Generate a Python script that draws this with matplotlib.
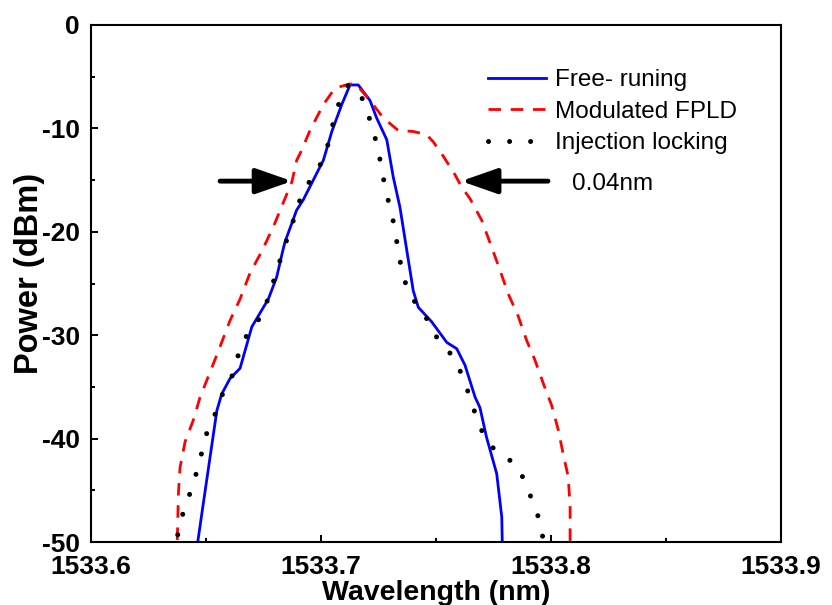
""" Spectra of the FPLD: free-running, modulated and injection locked """

import matplotlib
matplotlib.use('Agg')
import matplotlib.pyplot as plt
from matplotlib.ticker import MultipleLocator

# Free-running
free_wl = [1533.6464, 1533.6488, 1533.6547, 1533.6568, 1533.6604, 1533.6648,
           1533.6699, 1533.6771, 1533.6807, 1533.6833, 1533.6843, 1533.6894,
           1533.6923, 1533.6996, 1533.7010, 1533.7047, 1533.7090, 1533.7126,
           1533.7162, 1533.7213, 1533.7242, 1533.7286, 1533.7314, 1533.7343,
           1533.7373, 1533.7401, 1533.7423, 1533.7481, 1533.7547, 1533.7590,
           1533.7626, 1533.7670, 1533.7691, 1533.7720, 1533.7764, 1533.7786,
           1533.7788]
free_pw = [-50.0, -46.3, -37.3, -35.7, -34.2, -33.2,
           -29.2, -26.5, -24.4, -21.9, -21.0, -17.9,
           -16.9, -13.7, -13.1, -10.3, -7.7, -5.8,
           -5.8, -7.3, -9.0, -11.1, -14.7, -17.6,
           -21.8, -25.7, -27.3, -28.7, -30.7, -31.3,
           -32.9, -36.0, -37.0, -39.9, -43.4, -47.6,
           -50.0]

# Modulated FPLD
mod_wl = [1533.6375, 1533.6380, 1533.6387, 1533.6409, 1533.6445, 1533.6474,
          1533.6517, 1533.6561, 1533.6604, 1533.6648, 1533.6691, 1533.6742,
          1533.6793, 1533.6843, 1533.6873, 1533.6894, 1533.6916, 1533.6952,
          1533.7010, 1533.7061, 1533.7126, 1533.7155, 1533.7213, 1533.7271,
          1533.7336, 1533.7401, 1533.7459, 1533.7488, 1533.7532, 1533.7583,
          1533.7612, 1533.7648, 1533.7699, 1533.7742, 1533.7778, 1533.7814,
          1533.7858, 1533.7894, 1533.7930, 1533.7967, 1533.8003, 1533.8032,
          1533.8053, 1533.8075, 1533.8083, 1533.8083]
mod_pw = [-49.8, -45.3, -42.8, -40.3, -38.2, -36.0,
          -33.6, -31.1, -28.6, -26.5, -24.0, -21.9,
          -19.5, -16.8, -15.2, -13.1, -12.1, -10.2,
          -7.7, -6.1, -5.7, -5.8, -7.3, -9.0,
          -10.2, -10.3, -10.6, -11.3, -12.7, -14.5,
          -15.7, -16.8, -18.9, -21.5, -23.7, -26.0,
          -28.2, -30.5, -32.4, -34.7, -36.8, -39.2,
          -41.5, -43.7, -46.6, -49.9]

# Injection locking
inj_wl = [1533.6377, 1533.6399, 1533.6430, 1533.6457, 1533.6481, 1533.6503,
          1533.6542, 1533.6575, 1533.6619, 1533.6645, 1533.6691, 1533.6749,
          1533.6775, 1533.6804, 1533.6832, 1533.6862, 1533.6890, 1533.6920,
          1533.6974, 1533.7017, 1533.7039, 1533.7061, 1533.7090, 1533.7119,
          1533.7170, 1533.7203, 1533.7232, 1533.7253, 1533.7268, 1533.7287,
          1533.7310, 1533.7326, 1533.7340, 1533.7358, 1533.7391, 1533.7449,
          1533.7488, 1533.7543, 1533.7583, 1533.7622, 1533.7651, 1533.7680,
          1533.7717, 1533.7771, 1533.7843, 1533.7887, 1533.7920, 1533.7952,
          1533.7967]
inj_pw = [-49.3, -47.3, -45.3, -43.4, -41.4, -39.5,
          -37.5, -35.5, -33.7, -31.5, -29.4, -28.0,
          -26.0, -24.1, -22.0, -20.1, -18.2, -16.1,
          -14.4, -12.7, -10.8, -8.7, -6.8, -5.8,
          -6.6, -8.5, -10.6, -12.6, -14.5, -16.5,
          -18.5, -20.5, -22.4, -24.4, -26.3, -27.9,
          -29.8, -31.2, -32.4, -34.3, -36.3, -38.2,
          -40.2, -41.4, -42.4, -44.1, -46.1, -48.0,
          -49.9]

# width markers
arrow_level = -15.1
left_arrow = (1533.6561, 1533.6874)
right_arrow = (1533.7987, 1533.7609)
width_label = '0.04nm'

plt.rcParams['font.family'] = ['Liberation Sans', 'DejaVu Sans']
plt.rcParams['axes.unicode_minus'] = False

fig = plt.figure(figsize=(8.32, 6.05), dpi=100)
ax = fig.add_axes([0.1094, 0.1041, 0.8293, 0.8546])

ax.plot(free_wl, free_pw, color='#0000ff', lw=2.0, label='Free- runing')
ax.plot(mod_wl, mod_pw, color='#ff0000', lw=2.0, linestyle=(0, (4.5, 3.5)),
        label='Modulated FPLD')
ax.plot(inj_wl, inj_pw, color='black', lw=3.6, linestyle=(0, (0.01, 4.2)),
        dash_capstyle='round', label='Injection locking')

for tail, tip in (left_arrow, right_arrow):
    ax.annotate('', xy=(tip, arrow_level), xytext=(tail, arrow_level),
                arrowprops=dict(arrowstyle='-|>,head_length=1.0,head_width=0.35',
                                lw=3.5, color='black', mutation_scale=22,
                                shrinkA=0, shrinkB=0))
ax.text(1533.8091, arrow_level - 0.3, width_label, fontsize=17.5,
        ha='left', va='center')

ax.set_xlim(1533.6, 1533.9)
ax.set_ylim(-50, 0)
ax.xaxis.set_major_locator(MultipleLocator(0.1))
ax.xaxis.set_minor_locator(MultipleLocator(0.05))
ax.yaxis.set_major_locator(MultipleLocator(10))
ax.yaxis.set_minor_locator(MultipleLocator(5))
ax.set_xticks([1533.6, 1533.7, 1533.8, 1533.9])
ax.set_xticklabels(['1533.6', '1533.7', '1533.8', '1533.9'])
ax.tick_params(which='both', direction='in', width=1.4, top=False, right=False)
ax.tick_params(which='major', length=5, labelsize=19)
ax.tick_params(axis='x', which='major', pad=9)
ax.tick_params(axis='y', which='major', pad=8)
ax.tick_params(which='minor', length=3)
for lab in ax.get_xticklabels() + ax.get_yticklabels():
    lab.set_fontweight('bold')
for sp in ax.spines.values():
    sp.set_linewidth(1.5)

ax.set_xlabel('Wavelength (nm)', fontsize=20.5, fontweight='bold')
ax.set_ylabel('Power (dBm)', fontsize=23.5, fontweight='bold')
ax.xaxis.set_label_coords(0.5, -0.074)
ax.yaxis.set_label_coords(-0.066, 0.52)

ax.legend(loc='upper left', bbox_to_anchor=(488 / 832, 1 - 69 / 605),
          bbox_transform=fig.transFigure, frameon=False, fontsize=17.5,
          handlelength=2.4, handletextpad=0.35, labelspacing=0.4,
          borderpad=0, borderaxespad=0)

plt.savefig('out.png', dpi=100)
